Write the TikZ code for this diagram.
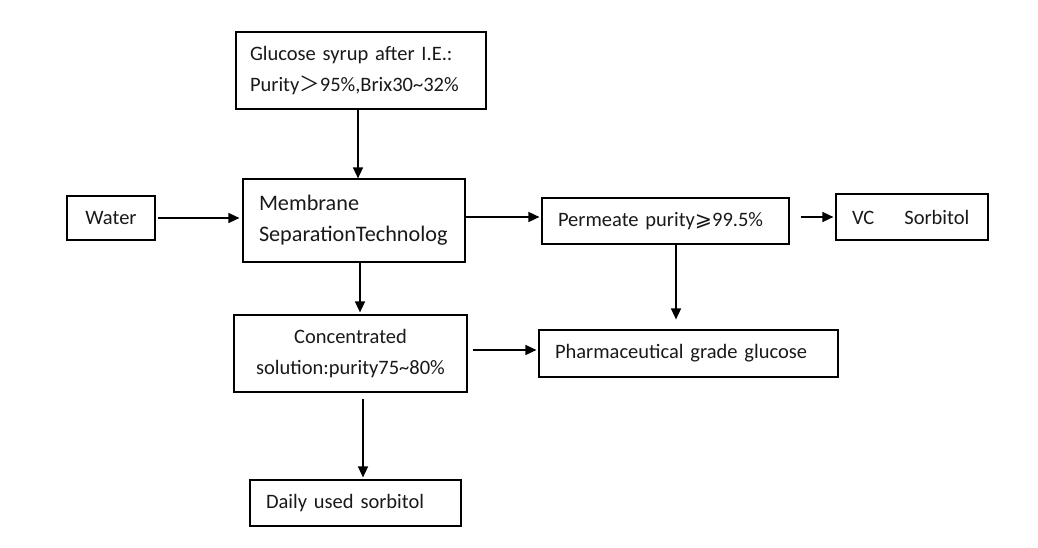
\documentclass[tikz,border=0pt]{standalone}
\usepackage{fontspec}
\setmainfont{Carlito}
\newfontfamily\cjkfont{Noto Sans CJK SC}
\newfontfamily\symfont{DejaVu Sans}
\usetikzlibrary{arrows.meta}
\begin{document}
\begin{tikzpicture}[x=1pt,y=-1pt,
  every node/.style={font=\fontsize{20.5}{31}\selectfont, text=black!90},
  box/.style={draw=black, line width=1.2pt, rectangle, inner ysep=0pt, align=left},
  arr/.style={line width=1.6pt, -{Triangle[length=11pt,width=10pt]}}]
\useasboundingbox (0,0) rectangle (1038,548);
\node[box, minimum height=77, text width=222, inner xsep=14] (glu) at (361,70.5)
  {Glucose syrup after I.E.:\\Purity{\cjkfont ＞}95\%,Brix30\textasciitilde32\%};
\node[box, minimum height=83, text width=190, inner xsep=16, font=\fontsize{22.2}{31}\selectfont] (mem) at (354,220.5)
  {Membrane\\SeparationTechnolog};
\node[box, minimum width=88, minimum height=44, inner xsep=0, align=center] (wat) at (111,218) {Water};
\node[box, minimum height=46, text width=215, inner xsep=16] (per) at (665.5,221)
  {Permeate purity{\symfont ⩾}99.5\%};
\node[box, minimum height=46, text width=120, inner xsep=16] (vc) at (912,217)
  {VC\hspace{30pt}Sorbitol};
\node[box, minimum width=233, minimum height=77, inner xsep=0, align=center] (con) at (350.5,353.5)
  {Concentrated\\solution:purity75\textasciitilde80\%};
\node[box, minimum height=47, text width=267, inner xsep=16] (pha) at (688.5,353.5)
  {Pharmaceutical grade glucose};
\node[box, minimum height=46, text width=179, inner xsep=16] (dai) at (355.5,503)
  {Daily used sorbitol};
\draw[arr] (glu.south -| 358,0) -- (mem.north -| 358,0);
\draw[arr] ([xshift=2]wat.east) -- ([xshift=-3]wat.east -| mem.west);
\draw[arr] (mem.east |- 0,217) -- ([xshift=-2]per.west |- 0,217);
\draw[arr] ([xshift=11]per.east |- 0,217) -- ([xshift=-2]vc.west |- 0,217);
\draw[arr] (mem.south -| 360,0) -- ([yshift=2]con.north -| 360,0);
\draw[arr] (per.south -| 676,0) -- ([yshift=10]pha.north -| 676,0);
\draw[arr] ([xshift=5]con.east |- 0,350) -- ([xshift=-2]pha.west |- 0,350);
\draw[arr] ([yshift=-6]con.south -| 363,0) -- ([yshift=2]dai.north -| 363,0);
\end{tikzpicture}
\end{document}
